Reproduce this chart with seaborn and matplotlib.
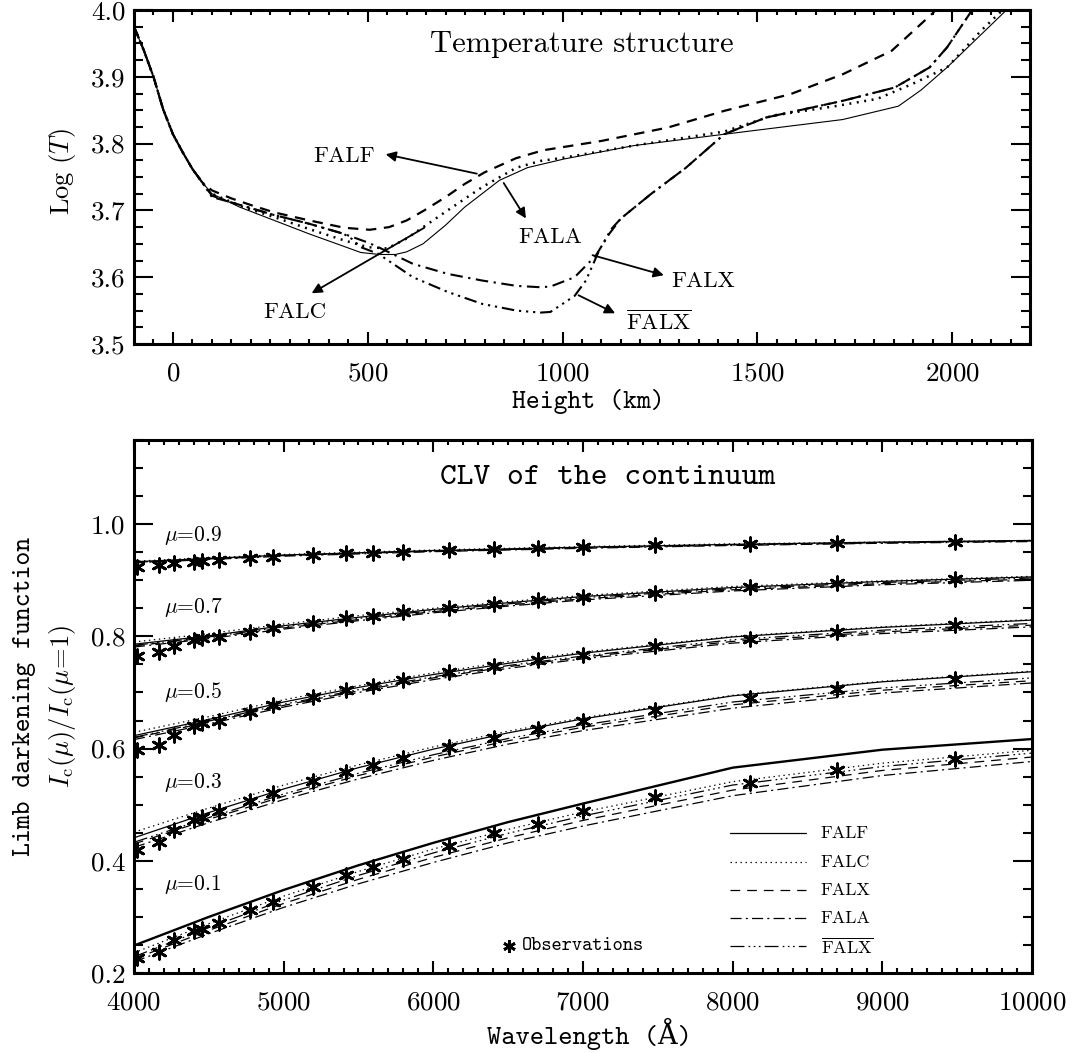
import matplotlib
matplotlib.use("Agg")
import matplotlib.pyplot as plt
from matplotlib.ticker import MultipleLocator, FormatStrFormatter
import seaborn as sns

# ---------------- Temperature structure: height (km) vs log T ----------------
h_falf = [-100, -75, -50, -25, 0, 25, 50, 75, 100, 150, 200, 260, 350, 440, 505, 555,
          600, 645, 700, 750, 800, 880, 950, 1100, 1270, 1415, 1585, 1720, 1845, 1950, 1965]
t_falf = [3.975, 3.940, 3.900, 3.851, 3.814, 3.787, 3.762, 3.742, 3.730, 3.718, 3.708, 3.697,
          3.685, 3.674, 3.671, 3.675, 3.685, 3.700, 3.720, 3.740, 3.757, 3.778, 3.790, 3.804,
          3.824, 3.849, 3.874, 3.904, 3.939, 3.995, 4.005]

h_falc = [-100, -75, -50, -25, 0, 25, 50, 75, 100, 180, 260, 350, 440, 500, 550, 600, 650,
          700, 794, 882, 943, 1004, 1183, 1415, 1540, 1700, 1808, 1897, 1987, 2076, 2135]
t_falc = [3.975, 3.940, 3.900, 3.851, 3.814, 3.787, 3.762, 3.742, 3.725, 3.705, 3.690, 3.672,
          3.655, 3.645, 3.643, 3.658, 3.678, 3.698, 3.735, 3.764, 3.774, 3.779, 3.797, 3.818,
          3.842, 3.856, 3.867, 3.889, 3.914, 3.970, 4.003]

h_fala = [-100, -75, -50, -25, 0, 25, 50, 75, 100, 171, 260, 349, 430, 482, 530, 571, 600,
          642, 700, 749, 838, 910, 1004, 1183, 1415, 1719, 1862, 1920, 1987, 2145]
t_fala = [3.975, 3.940, 3.900, 3.851, 3.814, 3.787, 3.762, 3.742, 3.725, 3.705, 3.685, 3.665,
          3.648, 3.637, 3.634, 3.634, 3.638, 3.650, 3.678, 3.705, 3.745, 3.764, 3.777, 3.797,
          3.814, 3.836, 3.856, 3.880, 3.914, 4.003]

h_falx = [-100, -75, -50, -25, 0, 25, 50, 75, 100, 150, 260, 350, 438, 500, 527, 616, 705,
          794, 882, 943, 969, 1031, 1085, 1120, 1150, 1228, 1317, 1415, 1522, 1719, 1853, 1942,
          1987, 2055]
t_falx = [3.975, 3.940, 3.900, 3.851, 3.814, 3.787, 3.762, 3.742, 3.722, 3.712, 3.693, 3.680,
          3.665, 3.652, 3.645, 3.620, 3.605, 3.595, 3.587, 3.585, 3.586, 3.600, 3.632, 3.665,
          3.688, 3.725, 3.764, 3.814, 3.839, 3.864, 3.884, 3.914, 3.944, 4.003]

h_falxb = [-100, -75, -50, -25, 0, 25, 50, 75, 100, 150, 260, 350, 438, 460, 482, 527, 616,
           705, 794, 882, 943, 969, 1031, 1060, 1094, 1125, 1150, 1228, 1317, 1415, 1522, 1719,
           1853, 1942, 1987, 2055]
t_falxb = [3.975, 3.940, 3.900, 3.851, 3.814, 3.787, 3.762, 3.742, 3.720, 3.712, 3.693, 3.680,
           3.665, 3.657, 3.645, 3.635, 3.600, 3.578, 3.560, 3.550, 3.547, 3.548, 3.572, 3.595,
           3.640, 3.672, 3.688, 3.725, 3.764, 3.814, 3.839, 3.864, 3.884, 3.914, 3.944, 4.003]

# ---------------- CLV of the continuum ----------------
mu_values = [0.1, 0.3, 0.5, 0.7, 0.9]
wl_model = [4000, 4500, 5000, 5500, 6000, 6500, 7000, 8000, 9000, 10000]

# one row per mu (0.1, 0.3, 0.5, 0.7, 0.9)
clv_falf = [
    [0.249, 0.300, 0.348, 0.392, 0.432, 0.469, 0.502, 0.566, 0.598, 0.617],
    [0.441, 0.486, 0.528, 0.566, 0.599, 0.628, 0.653, 0.694, 0.719, 0.737],
    [0.623, 0.652, 0.683, 0.709, 0.732, 0.752, 0.770, 0.799, 0.816, 0.829],
    [0.786, 0.801, 0.819, 0.834, 0.848, 0.860, 0.871, 0.887, 0.898, 0.906],
    [0.933, 0.939, 0.945, 0.949, 0.953, 0.956, 0.959, 0.964, 0.968, 0.971],
]
clv_falc = [
    [0.236, 0.288, 0.337, 0.381, 0.421, 0.456, 0.487, 0.541, 0.574, 0.597],
    [0.451, 0.494, 0.535, 0.571, 0.603, 0.631, 0.655, 0.695, 0.720, 0.738],
    [0.629, 0.657, 0.687, 0.712, 0.735, 0.755, 0.772, 0.800, 0.817, 0.830],
    [0.790, 0.805, 0.822, 0.837, 0.850, 0.862, 0.873, 0.889, 0.899, 0.907],
    [0.934, 0.940, 0.946, 0.950, 0.954, 0.957, 0.960, 0.965, 0.968, 0.971],
]
clv_falx = [
    [0.225, 0.276, 0.324, 0.367, 0.406, 0.441, 0.472, 0.526, 0.561, 0.585],
    [0.430, 0.474, 0.515, 0.552, 0.585, 0.614, 0.638, 0.678, 0.704, 0.721],
    [0.619, 0.647, 0.677, 0.703, 0.726, 0.746, 0.763, 0.791, 0.808, 0.820],
    [0.783, 0.798, 0.815, 0.830, 0.844, 0.856, 0.867, 0.883, 0.894, 0.902],
    [0.932, 0.938, 0.944, 0.948, 0.952, 0.955, 0.958, 0.963, 0.967, 0.970],
]
clv_fala = [
    [0.220, 0.270, 0.317, 0.359, 0.397, 0.432, 0.462, 0.516, 0.552, 0.577],
    [0.424, 0.468, 0.509, 0.546, 0.579, 0.608, 0.632, 0.672, 0.699, 0.717],
    [0.616, 0.644, 0.674, 0.700, 0.723, 0.743, 0.760, 0.788, 0.805, 0.817],
    [0.781, 0.796, 0.813, 0.828, 0.842, 0.854, 0.865, 0.881, 0.892, 0.900],
    [0.931, 0.937, 0.943, 0.947, 0.951, 0.954, 0.957, 0.962, 0.966, 0.969],
]
clv_falxb = [
    [0.229, 0.281, 0.330, 0.374, 0.414, 0.449, 0.480, 0.535, 0.568, 0.592],
    [0.433, 0.477, 0.519, 0.556, 0.589, 0.618, 0.642, 0.683, 0.708, 0.726],
    [0.620, 0.649, 0.679, 0.705, 0.728, 0.748, 0.765, 0.794, 0.811, 0.823],
    [0.784, 0.799, 0.817, 0.832, 0.846, 0.858, 0.869, 0.885, 0.896, 0.904],
    [0.932, 0.938, 0.944, 0.948, 0.952, 0.955, 0.958, 0.963, 0.967, 0.970],
]

wl_obs = [4019.7, 4167.4, 4268.2, 4401.0, 4453.0, 4565.9, 4777.4, 4929.6, 5198.2, 5417.9,
          5596.4, 5798.3, 6101.9, 6403.4, 6698.8, 7002.7, 7482.2, 8115.7, 8696.9, 9486.6]
obs_mu01 = [0.226, 0.238, 0.259, 0.275, 0.279, 0.289, 0.312, 0.327, 0.354, 0.375,
            0.389, 0.403, 0.427, 0.450, 0.465, 0.489, 0.514, 0.539, 0.561, 0.582]
obs_mu03 = [0.420, 0.434, 0.455, 0.473, 0.478, 0.488, 0.506, 0.521, 0.542, 0.558,
            0.571, 0.583, 0.603, 0.619, 0.635, 0.650, 0.668, 0.690, 0.706, 0.724]
obs_mu05 = [0.597, 0.607, 0.625, 0.640, 0.645, 0.650, 0.665, 0.677, 0.692, 0.704,
            0.712, 0.722, 0.736, 0.747, 0.757, 0.767, 0.782, 0.796, 0.808, 0.820]
obs_mu07 = [0.765, 0.772, 0.783, 0.793, 0.797, 0.799, 0.808, 0.815, 0.824, 0.832,
            0.836, 0.843, 0.851, 0.858, 0.864, 0.870, 0.878, 0.888, 0.895, 0.902]
obs_mu09 = [0.924, 0.927, 0.930, 0.933, 0.934, 0.936, 0.939, 0.942, 0.945, 0.948,
            0.949, 0.951, 0.954, 0.955, 0.957, 0.959, 0.962, 0.965, 0.967, 0.969]

# ---------------- style ----------------
sns.set_theme(style="ticks")
plt.rcParams.update({
    "font.family": ["cmr10", "DejaVu Serif"],
    "mathtext.fontset": "cm",
    "axes.formatter.use_mathtext": True,
    "axes.unicode_minus": False,
    "lines.scale_dashes": False,
    "axes.linewidth": 2.2,
    "axes.edgecolor": "black",
    "xtick.color": "black",
    "ytick.color": "black",
    "text.color": "black",
})

TT = ["cmtt10", "DejaVu Serif"]

fig = plt.figure(figsize=(10.75, 10.53), dpi=100)
ax1 = fig.add_axes([0.12465, 0.67331, 0.8335, 0.31719])
ax2 = fig.add_axes([0.12465, 0.07597, 0.83535, 0.50617])


def frame(ax):
    ax.tick_params(which="both", direction="in", top=True, right=True, width=1.5,
                   labelsize=19.5)
    ax.tick_params(axis="y", which="major", length=13.5, pad=6)
    ax.tick_params(axis="y", which="minor", length=6.5)
    ax.tick_params(axis="x", which="major", length=8.5, pad=13)
    ax.tick_params(axis="x", which="minor", length=3.8)
    for s in ax.spines.values():
        s.set_linewidth(2.2)
    ax.grid(False)


def line(ax, x, y, ls, lw):
    sns.lineplot(x=x, y=y, ax=ax, color="black", linestyle=ls, linewidth=lw,
                 estimator=None, sort=False, legend=False)


# ---- top panel ----
ls_top = {
    "falf": (0, (7.5, 5.5)),
    "falc": (0, (1.4, 4.0)),
    "fala": "-",
    "falx": (0, (9, 4, 1.6, 4)),
    "falxb": (0, (9, 3.5, 1.6, 3.5, 1.6, 3.5, 1.6, 3.5)),
}
line(ax1, h_fala, t_fala, ls_top["fala"], 0.8)
line(ax1, h_falc, t_falc, ls_top["falc"], 1.8)
line(ax1, h_falf, t_falf, ls_top["falf"], 1.6)
line(ax1, h_falx, t_falx, ls_top["falx"], 1.5)
line(ax1, h_falxb, t_falxb, ls_top["falxb"], 1.5)

ax1.set_xlim(-100, 2200)
ax1.set_ylim(3.5, 4.0)
ax1.xaxis.set_major_locator(MultipleLocator(500))
ax1.xaxis.set_minor_locator(MultipleLocator(50))
ax1.yaxis.set_major_locator(MultipleLocator(0.1))
ax1.yaxis.set_minor_locator(MultipleLocator(0.025))
ax1.yaxis.set_major_formatter(FormatStrFormatter("%.1f"))
frame(ax1)
ax1.set_xlabel("")
ax1.set_ylabel("")

ax1.text(1049, 3.937, "Temperature structure", fontsize=22, ha="center", va="baseline")

arrow = dict(arrowstyle="-|>", color="black", lw=1.3, mutation_scale=15,
             shrinkA=0, shrinkB=0)
labels_top = [
    ("FALF", (438, 3.7725), (780, 3.755), (546, 3.784)),
    ("FALA", (969, 3.651), (849, 3.741), (906, 3.688)),
    ("FALC", (312, 3.539), (645, 3.674), (356, 3.576)),
    ("FALX", (1361, 3.585), (1077, 3.633), (1260, 3.603)),
    (r"$\overline{\mathrm{FALX}}$", (1247, 3.521), (1041, 3.573), (1135, 3.546)),
]
for txt, pos, tail, head in labels_top:
    ax1.annotate("", xy=head, xytext=tail, arrowprops=arrow)
    ax1.text(pos[0], pos[1], txt, fontsize=16.5, ha="center", va="baseline")

fig.text(62 / 1075, 1 - 172 / 1053, r"Log ($T$)", rotation=90, fontsize=19,
         ha="center", va="center")
fig.text(588 / 1075, 1 - 401 / 1053, "Height (km)", fontsize=19, family=TT,
         ha="center", va="center")

# ---- bottom panel ----
ls_bot = {
    "falf": "-",
    "falc": (0, (1.0, 2.6)),
    "falx": (0, (7, 5)),
    "fala": (0, (8, 3, 1.5, 3)),
    "falxb": (0, (10, 3, 1.2, 2.5, 1.2, 2.5, 1.2, 3)),
}
models = [("falf", clv_falf), ("falc", clv_falc), ("falx", clv_falx),
          ("fala", clv_fala), ("falxb", clv_falxb)]
for i, mu in enumerate(mu_values):
    for key, table in models:
        lw = 1.7 if (key == "falf" and mu == 0.1) else 0.9
        line(ax2, wl_model, table[i], ls_bot[key], lw)

for obs in [obs_mu01, obs_mu03, obs_mu05, obs_mu07, obs_mu09]:
    sns.scatterplot(x=wl_obs, y=obs, ax=ax2, marker=(6, 2, 0), s=95, color="black",
                    linewidth=2.0, zorder=5, legend=False)

ax2.set_xlim(4000, 10000)
ax2.set_ylim(0.2, 1.15)
ax2.xaxis.set_major_locator(MultipleLocator(1000))
ax2.xaxis.set_minor_locator(MultipleLocator(100))
ax2.yaxis.set_major_locator(MultipleLocator(0.2))
ax2.yaxis.set_minor_locator(MultipleLocator(0.05))
ax2.yaxis.set_major_formatter(FormatStrFormatter("%.1f"))
frame(ax2)
ax2.set_xlabel("")
ax2.set_ylabel("")

ax2.text(7166, 1.0714, "CLV of the continuum", fontsize=23, family=TT,
         ha="center", va="baseline")

mu_label_y = [0.348, 0.530, 0.6905, 0.841, 0.970]
for mu, yl in zip(mu_values, mu_label_y):
    ax2.text(4200, yl, rf"$\mu$=$\mathrm{{{mu:.1f}}}$", fontsize=15.5, ha="left",
             va="baseline")

# legend drawn in axes fraction
leg_names = ["FALF", "FALC", "FALX", "FALA", r"$\overline{\mathrm{FALX}}$"]
leg_keys = ["falf", "falc", "falx", "fala", "falxb"]
leg_rows = [0.2627, 0.2083, 0.1557, 0.1032, 0.0507]
for name, key, yr in zip(leg_names, leg_keys, leg_rows):
    ax2.plot([0.664, 0.748], [yr, yr], transform=ax2.transAxes, color="black",
             linestyle=ls_bot[key], linewidth=0.9)
    ax2.text(0.765, yr, name, transform=ax2.transAxes, fontsize=13,
             ha="left", va="center")

ax2.plot([0.4176], [0.0507], transform=ax2.transAxes, marker=(6, 2, 0),
         markersize=9, mew=2.0, color="black", linestyle="none")
ax2.text(0.432, 0.0507, "Observations", transform=ax2.transAxes, fontsize=14,
         family=TT, ha="left", va="center")

fig.text(589 / 1075, 1 - 1034 / 1053, "Wavelength (Å)", fontsize=19.5, family=TT,
         ha="center", va="center")
fig.text(25 / 1075, 1 - 696 / 1053, "Limb darkening function", rotation=90,
         fontsize=19, family=TT, ha="center", va="center")
fig.text(62 / 1075, 1 - 706 / 1053, r"$I_{\mathrm{c}}(\mu)/I_{\mathrm{c}}(\mu\!=\!1)$",
         rotation=90, fontsize=19, ha="center", va="center")

fig.savefig("out.png", dpi=100)
